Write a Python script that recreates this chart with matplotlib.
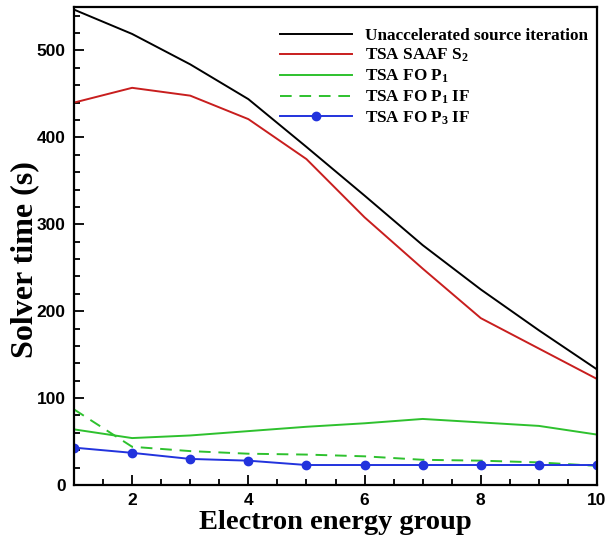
import matplotlib
matplotlib.use("Agg")
import matplotlib.pyplot as plt
from matplotlib.ticker import MultipleLocator

groups = [1, 2, 3, 4, 5, 6, 7, 8, 9, 10]
unaccelerated = [547, 519, 484, 444, 389, 333, 276, 225, 178, 133]
tsa_saaf_s2 = [440, 457, 448, 421, 375, 308, 249, 192, 157, 122]
tsa_fo_p1 = [64, 54, 57, 62, 67, 71, 76, 72, 68, 58]
tsa_fo_p1_if = [87, 44, 39, 36, 35, 33, 29, 28, 26, 22]
tsa_fo_p3_if = [43, 37, 30, 28, 23, 23, 23, 23, 23, 23]

labels = ["Unaccelerated source iteration",
          r"TSA SAAF S$_\mathrm{2}$",
          r"TSA FO P$_\mathrm{1}$",
          r"TSA FO P$_\mathrm{1}$ IF",
          r"TSA FO P$_\mathrm{3}$ IF"]

plt.rcParams['mathtext.fontset'] = 'custom'
plt.rcParams['mathtext.rm'] = 'Liberation Serif:bold'
plt.rcParams['mathtext.it'] = 'Liberation Serif:bold'
plt.rcParams['mathtext.bf'] = 'Liberation Serif:bold'

fig = plt.figure(figsize=(6.11, 5.38), dpi=100)
ax = fig.add_axes([74/611, 53/538, 523/611, 478/538])

lw = 1.4
ax.plot(groups, unaccelerated, color='black', lw=lw, label=labels[0])
ax.plot(groups, tsa_saaf_s2, color='#c81e1e', lw=lw, label=labels[1])
ax.plot(groups, tsa_fo_p1, color='#2ec12e', lw=lw, label=labels[2])
ax.plot(groups, tsa_fo_p1_if, color='#2ec12e', lw=lw, dashes=(6, 4), label=labels[3])
ax.plot(groups, tsa_fo_p3_if, color='#2233dd', lw=lw, marker='o', markersize=6,
        label=labels[4])

ax.set_xlim(1, 10)
ax.set_ylim(0, 550)
ax.xaxis.set_major_locator(MultipleLocator(2))
ax.xaxis.set_minor_locator(MultipleLocator(0.5))
ax.yaxis.set_major_locator(MultipleLocator(100))
ax.yaxis.set_minor_locator(MultipleLocator(20))
ax.tick_params(which='both', direction='in', top=False, right=False, width=1.3)
ax.tick_params(which='major', length=7)
ax.tick_params(which='minor', length=4)
for s in ax.spines.values():
    s.set_linewidth(1.6)

for lab in ax.get_xticklabels() + ax.get_yticklabels():
    lab.set_fontfamily('Liberation Sans')
    lab.set_fontweight('bold')
    lab.set_fontsize(12.5)
ax.tick_params(axis='x', pad=6)
ax.tick_params(axis='y', pad=6)

ax.set_xlabel("Electron energy group", fontfamily='Liberation Serif',
              fontweight='bold', fontsize=20.5, labelpad=1)
ax.set_ylabel("Solver time (s)", fontfamily='Liberation Serif',
              fontweight='bold', fontsize=23)
ax.yaxis.set_label_coords(-0.066, 0.471)

leg = ax.legend(loc='upper left', bbox_to_anchor=(0.394, 0.957), frameon=False,
                prop={'family': 'Liberation Serif', 'weight': 'bold', 'size': 12.3},
                handlelength=4.2, handletextpad=0.8, labelspacing=0.2,
                borderpad=0, borderaxespad=0, numpoints=1)

fig.savefig("out.png", dpi=100)
